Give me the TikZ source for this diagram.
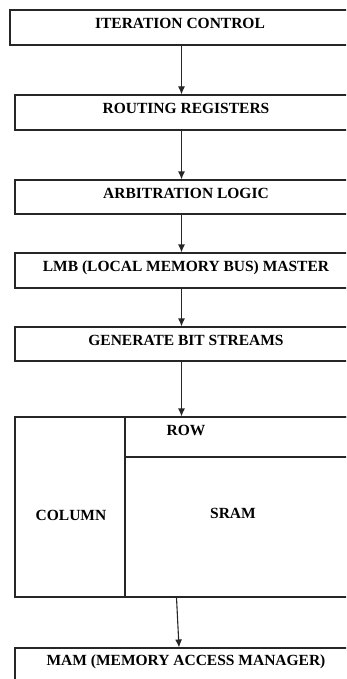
\documentclass[tikz,border=0pt]{standalone}
\usepackage{fontspec}
\setmainfont{Liberation Serif}
\usetikzlibrary{arrows.meta}

\tikzset{
	blk/.style={draw=black!85, line width=1.1pt, rectangle, inner sep=0pt,
		font=\fontsize{15.5}{17}\selectfont\bfseries, text height=10pt, text depth=8pt},
	lbl/.style={inner sep=0pt, font=\fontsize{15.5}{17}\selectfont\bfseries},
	arr/.style={draw=black!85, line width=1.1pt, -{Latex[length=8pt,width=7pt]}}
}

\begin{document}
\begin{tikzpicture}[x=1pt,y=-1pt]
	\clip (0,0) rectangle (346,679);
	\useasboundingbox (0,0) rectangle (346,679);
	\coordinate (ax) at (181.5,0);

	\node[blk, minimum width=340, minimum height=35] (ic) at (180,27.5) {ITERATION CONTROL};
	\node[blk, minimum width=342, minimum height=35] (rr) at (186,112.5) {ROUTING REGISTERS};
	\node[blk, minimum width=342, minimum height=34] (al) at (186,197) {ARBITRATION LOGIC};
	\node[blk, minimum width=342, minimum height=35] (lmb) at (186,270.5) {LMB (LOCAL MEMORY BUS) MASTER};
	\node[blk, minimum width=342, minimum height=34] (gbs) at (186,344) {GENERATE BIT STREAMS};

	% memory block
	\node[blk, minimum width=342, minimum height=180] (mem) at (186,507) {};
	\node[blk, minimum width=110, minimum height=180] (col) at (70,507) {};
	\node[blk, minimum width=232, minimum height=40] (row) at (241,437) {};
	\node[lbl] (coltxt) at (71,515) {COLUMN};
	\node[lbl] (rowtxt) at (186,430) {ROW};
	\node[lbl] (sramtxt) at (233,513) {SRAM};

	\node[blk, minimum width=342, minimum height=32] (mam) at (186,664) {MAM (MEMORY ACCESS MANAGER)};

	\draw[arr] (ic.south -| ax) -- (rr.north -| ax);
	\draw[arr] (rr.south -| ax) -- (al.north -| ax);
	\draw[arr] (al.south -| ax) -- (lmb.north -| ax);
	\draw[arr] (lmb.south -| ax) -- (gbs.north -| ax);
	\draw[arr] (gbs.south -| ax) -- (mem.north -| ax);
	\draw[arr] ([xshift=-5pt]mem.south -| ax) -- ([xshift=-2.5pt]mam.north -| ax);
\end{tikzpicture}
\end{document}
